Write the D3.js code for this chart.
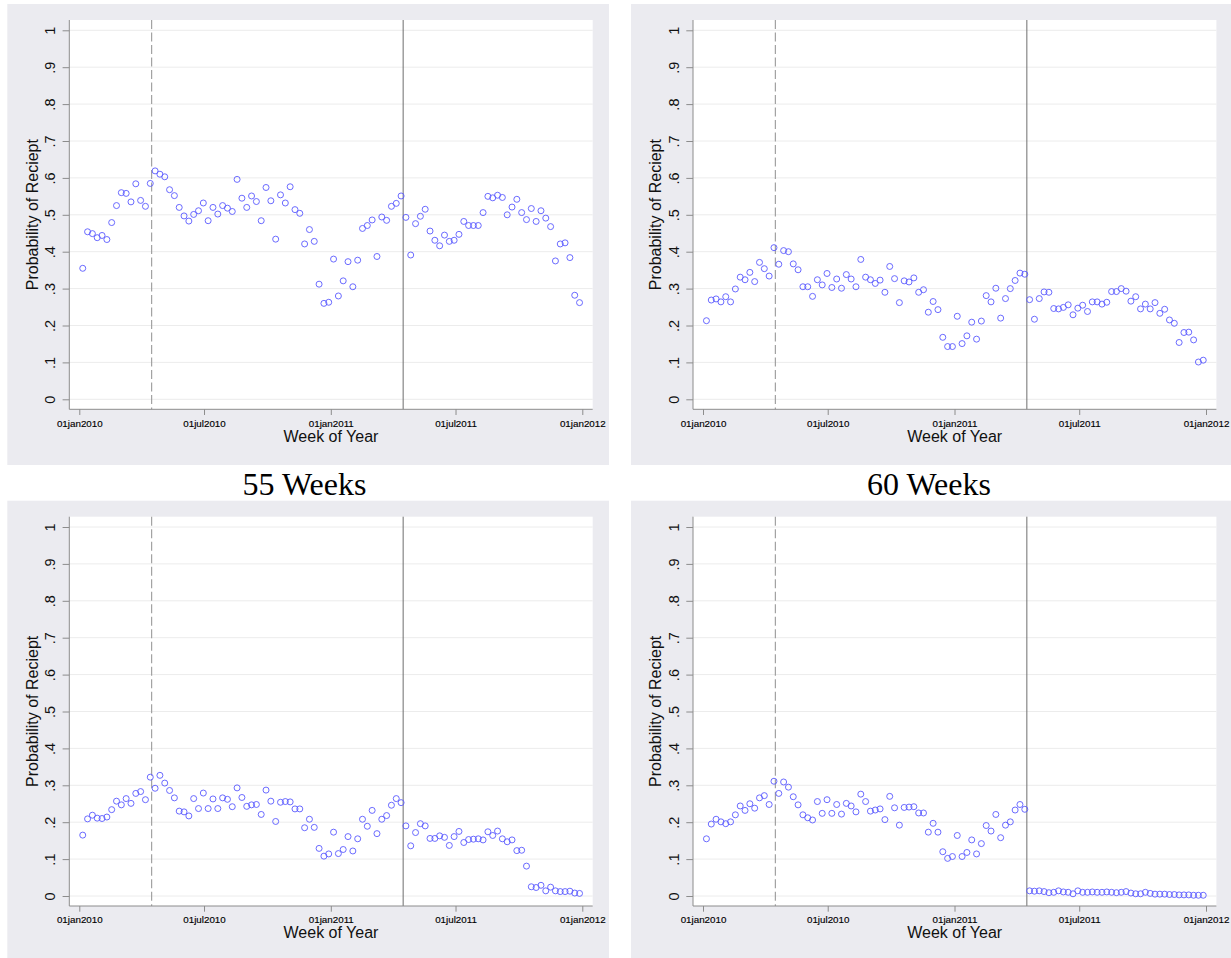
<!DOCTYPE html>
<html>
<head>
<meta charset="utf-8">
<script src="https://cdn.jsdelivr.net/npm/d3@7"></script>
<style>
  html, body { margin: 0; padding: 0; background: #ffffff; }
  svg { display: block; }
</style>
</head>
<body>
<svg id="chart" width="1231" height="958"></svg>
<script>
// ---------------- DATA ----------------
const firstWeek = "2010-01-06";   // date of the first weekly observation
const weeksPerSeries = 104;

const xTickDates  = ["2010-01-01", "2010-07-01", "2011-01-01", "2011-07-01", "2012-01-01"];
const xTickLabels = ["01jan2010", "01jul2010", "01jan2011", "01jul2011", "01jan2012"];
const yTickValues = [0, 0.1, 0.2, 0.3, 0.4, 0.5, 0.6, 0.7, 0.8, 0.9, 1];
const yTickLabels = ["0", ".1", ".2", ".3", ".4", ".5", ".6", ".7", ".8", ".9", "1"];

const dashedLineDate = "2010-04-16";
const solidLineDate  = "2011-04-16";

const captions = ["55 Weeks", "60 Weeks"];

const seriesTopLeft = [
  0.355,0.454,0.449,0.438,0.444,0.433,0.479,0.525,0.560,0.558,
  0.535,0.584,0.539,0.523,0.585,0.619,0.610,0.603,0.568,0.552,
  0.520,0.497,0.483,0.501,0.511,0.532,0.484,0.520,0.502,0.525,
  0.518,0.509,0.596,0.545,0.520,0.551,0.536,0.484,0.574,0.538,
  0.434,0.554,0.532,0.576,0.514,0.504,0.421,0.460,0.428,0.312,
  0.260,0.263,0.380,0.280,0.321,0.373,0.305,0.377,0.463,0.471,
  0.486,0.387,0.494,0.485,0.523,0.531,0.551,0.493,0.391,0.476,
  0.496,0.515,0.456,0.431,0.416,0.445,0.428,0.431,0.447,0.482,
  0.471,0.471,0.471,0.506,0.550,0.546,0.553,0.547,0.500,0.521,
  0.542,0.506,0.487,0.517,0.482,0.511,0.491,0.468,0.375,0.421,
  0.424,0.384,0.282,0.262
];
const seriesTopRight = [
  0.213,0.269,0.272,0.264,0.278,0.264,0.299,0.331,0.324,0.344,
  0.319,0.371,0.354,0.334,0.411,0.366,0.403,0.400,0.367,0.351,
  0.305,0.305,0.279,0.324,0.310,0.341,0.303,0.326,0.301,0.338,
  0.326,0.305,0.379,0.331,0.324,0.314,0.323,0.290,0.360,0.327,
  0.262,0.321,0.318,0.329,0.290,0.297,0.236,0.265,0.243,0.168,
  0.143,0.143,0.225,0.151,0.172,0.209,0.163,0.212,0.281,0.264,
  0.301,0.220,0.273,0.300,0.322,0.342,0.339,0.270,0.217,0.273,
  0.291,0.290,0.246,0.245,0.249,0.256,0.229,0.247,0.255,0.238,
  0.264,0.264,0.258,0.263,0.292,0.292,0.300,0.293,0.266,0.278,
  0.245,0.258,0.245,0.262,0.233,0.244,0.215,0.206,0.154,0.181,
  0.182,0.161,0.101,0.106
];
const seriesBottomLeft = [
  0.165,0.209,0.219,0.211,0.210,0.214,0.234,0.257,0.247,0.264,
  0.251,0.278,0.283,0.261,0.322,0.292,0.327,0.306,0.286,0.266,
  0.230,0.228,0.217,0.264,0.237,0.279,0.237,0.263,0.237,0.266,
  0.262,0.242,0.293,0.267,0.243,0.247,0.248,0.221,0.287,0.257,
  0.202,0.254,0.256,0.255,0.236,0.236,0.185,0.208,0.186,0.129,
  0.108,0.114,0.173,0.115,0.126,0.161,0.122,0.155,0.208,0.189,
  0.232,0.169,0.208,0.218,0.246,0.264,0.253,0.190,0.136,0.172,
  0.196,0.190,0.156,0.156,0.163,0.159,0.137,0.161,0.175,0.145,
  0.153,0.154,0.155,0.152,0.174,0.164,0.176,0.155,0.147,0.152,
  0.123,0.124,0.081,0.025,0.023,0.029,0.014,0.024,0.014,0.012,
  0.012,0.013,0.008,0.007
];
const seriesBottomRight = [
  0.155,0.195,0.208,0.201,0.196,0.201,0.220,0.244,0.232,0.250,
  0.238,0.266,0.272,0.248,0.311,0.278,0.309,0.295,0.269,0.247,
  0.220,0.212,0.206,0.256,0.224,0.261,0.224,0.248,0.222,0.251,
  0.244,0.228,0.276,0.256,0.230,0.233,0.236,0.207,0.270,0.239,
  0.192,0.240,0.241,0.242,0.225,0.225,0.173,0.197,0.173,0.120,
  0.102,0.107,0.164,0.107,0.118,0.152,0.114,0.142,0.191,0.176,
  0.221,0.158,0.192,0.201,0.233,0.248,0.235,0.014,0.013,0.014,
  0.012,0.009,0.010,0.014,0.011,0.010,0.006,0.014,0.010,0.010,
  0.011,0.010,0.010,0.011,0.010,0.009,0.010,0.012,0.008,0.006,
  0.006,0.010,0.007,0.005,0.005,0.005,0.004,0.004,0.003,0.003,
  0.003,0.002,0.002,0.002
];

// ---------------- LAYOUT ----------------
const parse = d3.utcParse("%Y-%m-%d");
const start = parse(firstWeek);
const weekDates = d3.range(weeksPerSeries).map(i => d3.utcDay.offset(start, 7 * i));

const panels = [
  { x: 7.3, y: 4,     w: 601.7, h: 461,   series: seriesTopLeft },
  { x: 631, y: 4,     w: 600,   h: 461,   series: seriesTopRight },
  { x: 7.3, y: 500.7, w: 601.7, h: 458,   series: seriesBottomLeft },
  { x: 631, y: 500.7, w: 600,   h: 458,   series: seriesBottomRight }
];

const svg = d3.select("#chart");
const SANS = "'Liberation Sans', Arial, Helvetica, sans-serif";
const SERIF = "'Liberation Serif', 'Times New Roman', Times, serif";

const plotOffL = 62, plotOffT = 16, plotW = 523.4, plotH = 389.3;

panels.forEach(p => {
  const g = svg.append("g");
  // outer graph region
  g.append("rect").attr("x", p.x).attr("y", p.y).attr("width", p.w).attr("height", p.h)
    .attr("fill", "#ebebf0");

  const L = p.x + plotOffL, T = p.y + plotOffT;
  g.append("rect").attr("x", L).attr("y", T).attr("width", plotW).attr("height", plotH)
    .attr("fill", "#ffffff");

  const x = d3.scaleUtc()
    .domain([parse(xTickDates[0]), parse(xTickDates[xTickDates.length - 1])])
    .range([L + 10, L + 513]);
  const y = d3.scaleLinear().domain([0, 1]).range([T + 379.3, T + 10.3]);

  // gridlines
  g.append("g").selectAll("line").data(yTickValues).join("line")
    .attr("x1", L).attr("x2", L + plotW)
    .attr("y1", d => y(d)).attr("y2", d => y(d))
    .attr("stroke", "#ececec").attr("stroke-width", 1);

  // reference lines
  g.append("line")
    .attr("x1", x(parse(dashedLineDate))).attr("x2", x(parse(dashedLineDate)))
    .attr("y1", T).attr("y2", T + plotH)
    .attr("stroke", "#9a9a9a").attr("stroke-width", 1.1)
    .attr("stroke-dasharray", "9,3.5");
  g.append("line")
    .attr("x1", x(parse(solidLineDate))).attr("x2", x(parse(solidLineDate)))
    .attr("y1", T).attr("y2", T + plotH)
    .attr("stroke", "#6e6e6e").attr("stroke-width", 1);

  // axis frame lines
  g.append("line").attr("x1", L).attr("x2", L).attr("y1", T).attr("y2", T + plotH)
    .attr("stroke", "#8c8c8c").attr("stroke-width", 1);
  g.append("line").attr("x1", L).attr("x2", L + plotW).attr("y1", T + plotH).attr("y2", T + plotH)
    .attr("stroke", "#8c8c8c").attr("stroke-width", 1);

  // x axis
  const xAxis = d3.axisBottom(x)
    .tickValues(xTickDates.map(parse))
    .tickFormat((d, i) => xTickLabels[i])
    .tickSize(5.7).tickSizeOuter(0).tickPadding(4.8);
  const gx = g.append("g").attr("transform", `translate(0,${T + plotH})`).call(xAxis);
  gx.select(".domain").remove();
  gx.selectAll(".tick line").attr("stroke", "#8c8c8c");
  gx.selectAll(".tick text").attr("font-family", SANS).attr("font-size", 9.8)
    .attr("fill", "#000").attr("stroke", "#000").attr("stroke-width", 0.15);

  // y axis
  const yAxis = d3.axisLeft(y)
    .tickValues(yTickValues)
    .tickFormat((d, i) => yTickLabels[i])
    .tickSize(6.7).tickSizeOuter(0);
  const gy = g.append("g").attr("transform", `translate(${L},0)`).call(yAxis);
  gy.select(".domain").remove();
  gy.selectAll(".tick line").attr("stroke", "#8c8c8c");
  gy.selectAll(".tick text")
    .attr("font-family", SANS).attr("font-size", 14.5).attr("fill", "#111")
    .attr("text-anchor", "middle").attr("x", null).attr("dy", null)
    .attr("transform", "translate(-14.3,0) rotate(-90)");

  // axis titles
  g.append("text").attr("x", L + plotW / 2).attr("y", p.y + 437.5)
    .attr("text-anchor", "middle").attr("font-family", SANS).attr("font-size", 16)
    .attr("fill", "#111").text("Week of Year");
  g.append("text")
    .attr("transform", `translate(${p.x + 30.2},${T + plotH / 2}) rotate(-90)`)
    .attr("text-anchor", "middle").attr("font-family", SANS).attr("font-size", 16)
    .attr("fill", "#111").text("Probability of Reciept");

  // markers
  g.append("g").selectAll("circle").data(p.series).join("circle")
    .attr("cx", (d, i) => x(weekDates[i]))
    .attr("cy", d => y(d))
    .attr("r", 3)
    .attr("fill", "none")
    .attr("stroke", "#5a5aff")
    .attr("stroke-width", 0.9);
});

// captions between the rows
svg.selectAll("text.caption").data(captions).join("text")
  .attr("class", "caption")
  .attr("x", (d, i) => [304.5, 929][i])
  .attr("y", 495)
  .attr("text-anchor", "middle")
  .attr("font-family", SERIF).attr("font-size", 32).attr("fill", "#000")
  .text(d => d);
</script>
</body>
</html>
